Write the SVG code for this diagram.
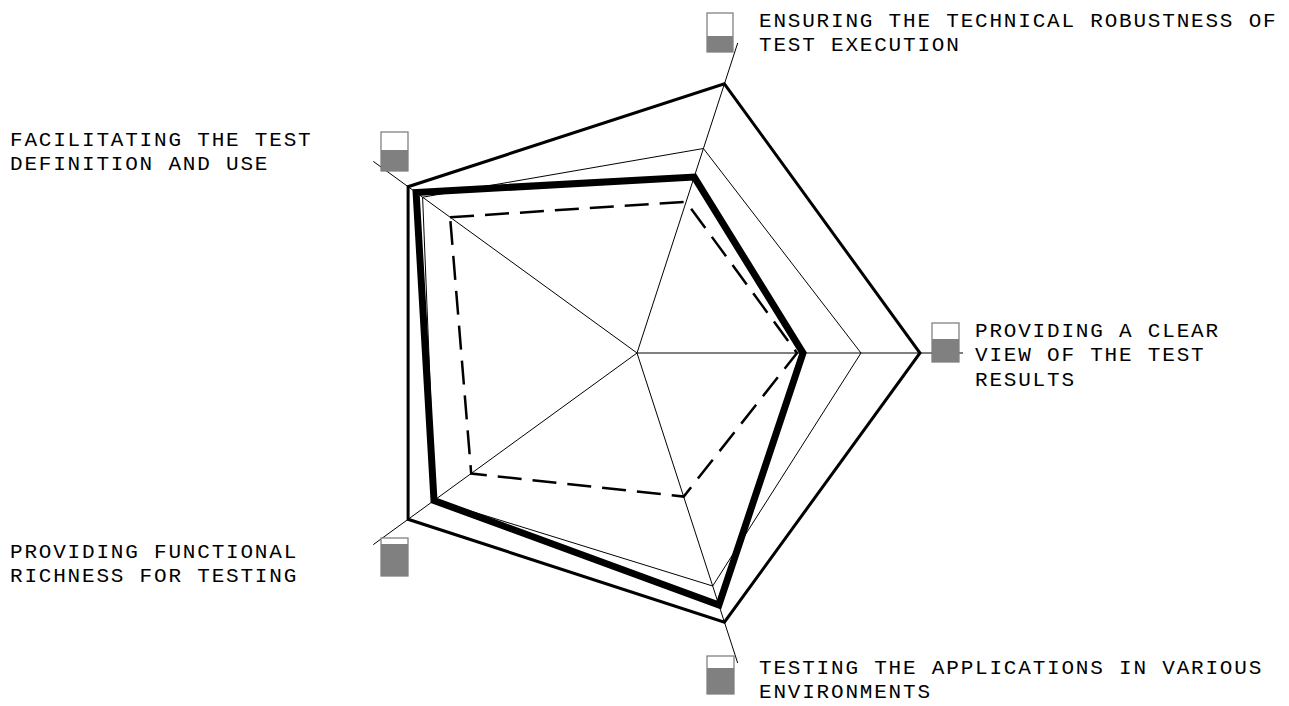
<svg xmlns="http://www.w3.org/2000/svg" width="1289" height="706" viewBox="0 0 1289 706">
<style>
.lbl{font-family:"Liberation Mono","Courier New",monospace;font-size:21px;letter-spacing:1.8px;fill:#000}
.axis{stroke:#000;stroke-width:1;fill:none}
.outer{stroke:#000;stroke-width:3;fill:none;stroke-linejoin:miter}
.thin{stroke:#000;stroke-width:1;fill:none}
.thick{stroke:#000;stroke-width:7;fill:none;stroke-linejoin:miter}
.dash{stroke:#000;stroke-width:2.5;fill:none;stroke-dasharray:24 11;stroke-linejoin:miter}
.box{fill:#fff;stroke:#777;stroke-width:1.2}
.lvl{fill:#808080}
</style>
<rect width="1289" height="706" fill="#fff"/>
<g id="connectors">
<g id="axes">
<line class="axis" x1="637" y1="353" x2="737.7" y2="43"/>
<line class="axis" x1="637" y1="353" x2="963" y2="353"/>
<line class="axis" x1="637" y1="353" x2="737.7" y2="663"/>
<line class="axis" x1="637" y1="353" x2="373.3" y2="544.6"/>
<line class="axis" x1="637" y1="353" x2="373.3" y2="161.4"/>
</g>
<polygon id="series-max" class="outer" points="724.4,83.8 920,353 724.4,622.2 408.1,519.3 408.1,186.7"/>
<polygon id="series-thin" class="thin" points="703.4,148.5 861,353 712.7,586 434.8,500 422.6,197.2"/>
<polygon id="series-thick" class="thick" points="694.2,177 803,353 718.9,605 434,500.5 416.1,192.5"/>
<polygon id="series-dashed" class="dash" points="450.1,217.2 686.1,201.8 797,353 683.7,496.6 471.2,473.5"/>
</g>
<g id="node-robustness">
<rect class="box" x="707" y="13" width="26" height="39"/>
<rect class="lvl" x="707" y="36" width="26" height="16"/>
<text class="lbl" x="759" y="27">ENSURING THE TECHNICAL ROBUSTNESS OF</text>
<text class="lbl" x="759" y="51">TEST EXECUTION</text>
</g>
<g id="node-results">
<rect class="box" x="932" y="323" width="27" height="39"/>
<rect class="lvl" x="932" y="339" width="27" height="23"/>
<text class="lbl" x="975" y="337">PROVIDING A CLEAR</text>
<text class="lbl" x="975" y="361">VIEW OF THE TEST</text>
<text class="lbl" x="975" y="386">RESULTS</text>
</g>
<g id="node-environments">
<rect class="box" x="707" y="656" width="27" height="38"/>
<rect class="lvl" x="707" y="668" width="27" height="26"/>
<text class="lbl" x="759" y="674">TESTING THE APPLICATIONS IN VARIOUS</text>
<text class="lbl" x="759" y="698">ENVIRONMENTS</text>
</g>
<g id="node-functional">
<rect class="box" x="381" y="538" width="27" height="38"/>
<rect class="lvl" x="381" y="544" width="27" height="32"/>
<text class="lbl" x="10" y="558">PROVIDING FUNCTIONAL</text>
<text class="lbl" x="10" y="582">RICHNESS FOR TESTING</text>
</g>
<g id="node-definition">
<rect class="box" x="381" y="132" width="27" height="39"/>
<rect class="lvl" x="381" y="150" width="27" height="21"/>
<text class="lbl" x="10" y="146">FACILITATING THE TEST</text>
<text class="lbl" x="10" y="170">DEFINITION AND USE</text>
</g>
</svg>
